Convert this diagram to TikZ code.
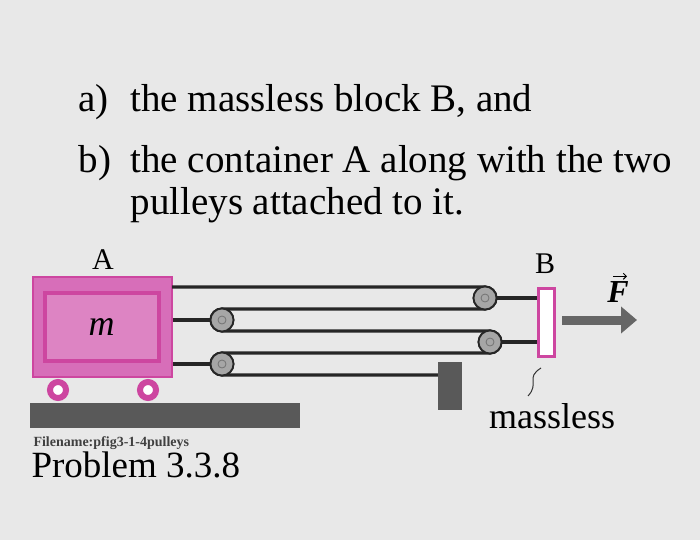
\documentclass[tikz,border=0pt]{standalone}
\usepackage{fontspec}
\setmainfont{Liberation Serif}
\usetikzlibrary{arrows.meta}
\definecolor{mag}{RGB}{205,70,160}
\definecolor{magl}{RGB}{215,110,185}
\begin{document}
\begin{tikzpicture}[x=1pt,y=-1pt,
  rope/.style={line width=3.2pt,black!85},
  pulley/.style={circle,draw=black!85,line width=1.8pt,fill=gray!70,minimum size=23pt,inner sep=0pt},
  wheel/.style={circle,draw=mag,line width=6pt,fill=white,minimum size=16pt,inner sep=0pt},
  big/.style={font=\fontsize{39}{44}\selectfont,anchor=base west}]
\fill[gray!18] (0,0) rectangle (700,540);
\useasboundingbox (0,0) rectangle (700,540);
\node[big] (ta) at (75,112) {\makebox[52pt][l]{a)}the massless block B, and};
\node[big] (tb) at (75,172) {\makebox[52pt][l]{b)}the container A along with the two};
\node[big] (tc) at (127,214) {pulleys attached to it.};
% ground
\fill[black!65] (30,403) rectangle (300,428);
% wall post
\node[fill=black!65,minimum width=24pt,minimum height=48pt,inner sep=0pt] (post) at (450,386) {};
% cart
\node[wheel] (w1) at (58,390) {};
\node[wheel] (w2) at (148,390) {};
\node[draw=mag,line width=1.5pt,fill=magl,minimum width=139pt,minimum height=100pt,inner sep=0pt] (box) at (102.5,327) {};
\node[draw=mag,line width=4pt,fill=magl!85!white,minimum width=114pt,minimum height=68pt] (inner) at (101.5,327) {\fontsize{36}{38}\selectfont\itshape m};
\node[font=\fontsize{30}{32}\selectfont] (A) at (103,260) {A};
% pulleys
\node[pulley] (p1) at (485,298) {};
\node[pulley] (p2) at (222,320) {};
\node[pulley] (p3) at (490,342) {};
\node[pulley] (p4) at (222,364) {};
% block B
\node[draw=mag,line width=3pt,fill=white,minimum width=16pt,minimum height=68pt,inner sep=0pt] (B) at (546,322) {};
\node[font=\fontsize{30}{32}\selectfont] (Bl) at (545,264) {B};
% ropes
\draw[rope] (172,287) -- (485,287) arc[start angle=-90,end angle=90,radius=11] -- (222,309) arc[start angle=270,end angle=90,radius=11] -- (490,331) arc[start angle=-90,end angle=90,radius=11] -- (222,353) arc[start angle=270,end angle=90,radius=11] -- (post.west |- 0,375);
\draw[rope] (box.east |- p2) -- (p2);
\draw[rope] (box.east |- p4) -- (p4);
\draw[rope] (p1) -- (B.west |- p1);
\draw[rope] (p3) -- (B.west |- p3);
\foreach \p in {p1,p2,p3,p4} {\node[pulley] at (\p) {}; \node[circle,draw=black!55,minimum size=8pt,inner sep=0pt,line width=0.8pt] at (\p) {};}
% force
\coordinate (f0) at (562,320);
\coordinate (f1) at (637,320);
\draw[black!60,line width=9pt,-{Triangle[length=16pt,width=26pt]}] (f0) -- (f1);
\node[font=\fontsize{32}{34}\selectfont\bfseries\itshape,inner sep=1pt] (F) at (618,292) {F};
\draw[line width=1pt,-{Straight Barb[length=3pt]}] ([xshift=-5pt,yshift=4pt]F.north) -- ([xshift=9pt,yshift=4pt]F.north);
% massless
\node[font=\fontsize{36}{38}\selectfont] (ml) at (552,416) {massless};
\coordinate (s0) at (541,368);
\draw[black!80,line width=1pt] (s0) .. controls (525,378) and (540,383) .. (528,396);
% captions
\node[anchor=base west,font=\fontsize{14}{16}\selectfont\bfseries,black!75] (fn) at (30,446) {Filename:pfig3-1-4pulleys};
\node[anchor=base west,font=\fontsize{37}{40}\selectfont] (pr) at (28,477) {Problem 3.3.8};
\end{tikzpicture}
\end{document}
